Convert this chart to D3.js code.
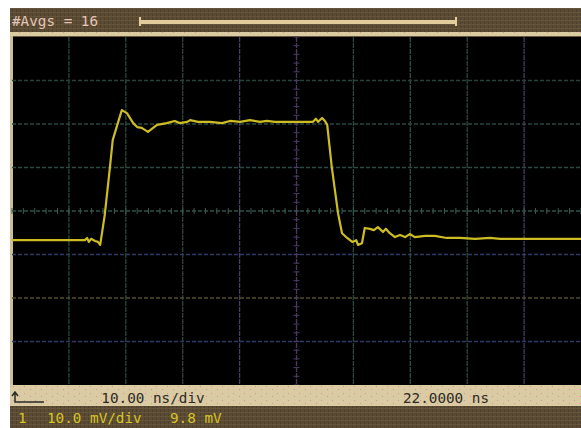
<!DOCTYPE html>
<html>
<head>
<meta charset="utf-8">
<script src="https://cdn.jsdelivr.net/npm/d3@7"></script>
<style>
  html, body { margin: 0; padding: 0; background: #fff; }
  svg { display: block; }
  .mono { font-family: "DejaVu Sans Mono", "Liberation Mono", monospace; }
</style>
</head>
<body>
<svg id="scope" width="581" height="428"></svg>
<script>
// trace samples: time (ns) and level (mV)
const timeNs = [-28.0, -21.3, -15.2, -14.8, -14.5, -14.1, -13.4, -12.9, -12.5, -11.7, -10.8, -10.3,
  -9.4, -8.7, -7.8, -6.7, -6.0, -5.2, -4.1, -3.2, -2.5, -0.8, 0.6, 1.5, 2.8, 3.3, 4.7, 6.8, 8.9,
  10.3, 12.1, 13.8, 15.6, 16.8, 18.2, 20.0, 21.7, 23.5, 24.9, 25.4, 25.8, 26.5, 27.0, 27.4, 28.2,
  29.3, 30.0, 30.9, 31.8, 32.5, 32.8, 33.5, 34.0, 34.9, 35.6, 36.3, 37.2, 37.7, 38.4, 39.3, 40.2,
  41.1, 41.9, 42.8, 44.6, 46.3, 48.4, 50.7, 53.4, 56.0, 57.8, 61.3, 64.8, 72.0];
const levelMv = [3.1, 3.1, 3.1, 3.6, 2.7, 3.4, 2.9, 2.7, 2.0, 8.9, 19.7, 26.1,
  30.0, 33.0, 32.3, 30.0, 29.1, 28.9, 28.0, 28.9, 29.6, 30.0, 30.5, 30.0, 30.3, 30.7, 30.3, 30.3, 30.0,
  30.5, 30.3, 30.7, 30.3, 30.5, 30.3, 30.3, 30.3, 30.3, 30.3, 31.0, 30.3, 31.2, 30.5, 29.6, 19.9,
  9.3, 4.7, 3.6, 2.7, 3.1, 2.0, 2.4, 5.9, 5.7, 5.4, 6.1, 5.0, 5.7, 4.7, 3.8, 4.3,
  3.8, 4.5, 3.8, 4.1, 4.1, 3.6, 3.6, 3.4, 3.6, 3.4, 3.4, 3.4, 3.4];

// screen settings
const centerTime = 22;      // ns
const nsPerDiv = 10;
const offsetMv = 9.8;
const mvPerDiv = 10;
const hDivs = [-5, -4, -3, -2, -1, 0, 1, 2, 3, 4, 5];
const vDivs = [-4, -3, -2, -1, 0, 1, 2, 3, 4];

// labels
const avgLabel = "#Avgs = 16";
const timebaseLabel = "10.00 ns/div";
const positionLabel = "22.0000 ns";
const channelLabel = "1";
const scaleLabel = "10.0 mV/div";
const offsetLabel = "9.8 mV";

const svg = d3.select("#scope");
const plot = { left: 12, right: 581, top: 37, bottom: 385 };

const x = d3.scaleLinear()
  .domain([centerTime - 5 * nsPerDiv, centerTime + 5 * nsPerDiv])
  .range([plot.left, plot.right]);
const y = d3.scaleLinear()
  .domain([offsetMv - 4 * mvPerDiv, offsetMv + 4 * mvPerDiv])
  .range([plot.bottom, plot.top]);

// dithered textures
const defs = svg.append("defs");
const brown = defs.append("pattern").attr("id", "brownTex")
  .attr("width", 4).attr("height", 4).attr("patternUnits", "userSpaceOnUse");
brown.append("rect").attr("width", 4).attr("height", 4).attr("fill", "#5b4b33");
brown.append("rect").attr("width", 1).attr("height", 4).attr("fill", "#4d4030");
brown.append("rect").attr("width", 4).attr("height", 1).attr("fill", "#66553a");

const beige = defs.append("pattern").attr("id", "beigeTex")
  .attr("width", 11).attr("height", 7).attr("patternUnits", "userSpaceOnUse");
beige.append("rect").attr("width", 11).attr("height", 7).attr("fill", "#dacba3");
beige.append("rect").attr("x", 2).attr("y", 1).attr("width", 1).attr("height", 1).attr("fill", "#d88fa0");
beige.append("rect").attr("x", 8).attr("y", 4).attr("width", 1).attr("height", 1).attr("fill", "#d88fa0");

// header
svg.append("rect").attr("x", 10).attr("y", 8).attr("width", 571).attr("height", 29)
  .attr("fill", "url(#brownTex)");
svg.append("rect").attr("x", 10).attr("y", 32).attr("width", 571).attr("height", 4)
  .attr("fill", "url(#beigeTex)");
svg.append("text").attr("class", "mono")
  .attr("x", 12).attr("y", 26)
  .attr("font-size", "14.3px").attr("fill", "#e6c6b8")
  .text(avgLabel);
// averaging progress bar
svg.append("rect").attr("x", 139).attr("y", 20).attr("width", 317).attr("height", 4)
  .attr("fill", "#e2cc9c");
svg.append("rect").attr("x", 139).attr("y", 17).attr("width", 2).attr("height", 9).attr("fill", "#e2cc9c");
svg.append("rect").attr("x", 455).attr("y", 17).attr("width", 2).attr("height", 9).attr("fill", "#e2cc9c");

// screen
svg.append("rect").attr("x", 10).attr("y", 36).attr("width", 3).attr("height", 350).attr("fill", "#cbbd95");
svg.append("rect")
  .attr("x", plot.left + 1).attr("y", plot.top)
  .attr("width", plot.right - plot.left).attr("height", plot.bottom - plot.top)
  .attr("fill", "#000");

// graticule colours, left to right and bottom to top
const vColors = ["#000", "#2c4838", "#2c4838", "#2c4838", "#4a3a66", "#4a3a66",
  "#2c4838", "#33503e", "#2c4838", "#4a3a66", "#000"];
const hColors = ["#000", "#2f3a66", "#4f4e2c", "#2f3a66", "#2e5048", "#2a4a44", "#2a4a44", "#26403a", "#000"];

const grid = svg.append("g").attr("class", "grid");
grid.selectAll(".vline")
  .data(hDivs.slice(1, -1))
  .enter().append("line")
  .attr("class", "vline")
  .attr("x1", d => x(centerTime + d * nsPerDiv))
  .attr("x2", d => x(centerTime + d * nsPerDiv))
  .attr("y1", plot.top).attr("y2", plot.bottom)
  .attr("stroke", (d, i) => vColors[i + 1])
  .attr("stroke-width", 1.3)
  .attr("stroke-dasharray", "5,1");

grid.selectAll(".hline")
  .data(vDivs.slice(1, -1))
  .enter().append("line")
  .attr("class", "hline")
  .attr("x1", plot.left).attr("x2", plot.right)
  .attr("y1", d => y(offsetMv + d * mvPerDiv))
  .attr("y2", d => y(offsetMv + d * mvPerDiv))
  .attr("stroke", (d, i) => hColors[i + 1])
  .attr("stroke-width", 1.3)
  .attr("stroke-dasharray", "4,2");

// minor ticks on the centre axes
const minorT = d3.range(-25, 25.01, 1).map(k => centerTime + k * nsPerDiv / 5);
const minorV = d3.range(-20, 20.01, 1).map(k => offsetMv + k * mvPerDiv / 5);
grid.selectAll(".tickT")
  .data(minorT)
  .enter().append("line")
  .attr("x1", d => x(d)).attr("x2", d => x(d))
  .attr("y1", y(offsetMv) - 3).attr("y2", y(offsetMv) + 3)
  .attr("stroke", "#3a5a52").attr("stroke-width", 1);
grid.selectAll(".tickV")
  .data(minorV)
  .enter().append("line")
  .attr("x1", x(centerTime) - 3).attr("x2", x(centerTime) + 3)
  .attr("y1", d => y(d)).attr("y2", d => y(d))
  .attr("stroke", "#4a3a66").attr("stroke-width", 1);

// trace
const trace = timeNs.map((t, i) => ({ t: t, v: levelMv[i] }));
svg.append("path")
  .datum(trace)
  .attr("fill", "none")
  .attr("stroke", "#cdbd22")
  .attr("stroke-width", 2.2)
  .attr("stroke-linejoin", "round")
  .attr("d", d3.line().x(d => x(d.t)).y(d => y(d.v)));

// footer
svg.append("rect").attr("x", 10).attr("y", 385).attr("width", 571).attr("height", 21)
  .attr("fill", "url(#beigeTex)");
svg.append("rect").attr("x", 10).attr("y", 406).attr("width", 571).attr("height", 22)
  .attr("fill", "url(#brownTex)");
// trigger/position icon
svg.append("path")
  .attr("d", "M15,393 L15,402 L44,402 M12,396 L15,392 L18,396")
  .attr("fill", "none").attr("stroke", "#2a2a28").attr("stroke-width", 1.5);

svg.append("text").attr("class", "mono")
  .attr("x", 153).attr("y", 403).attr("text-anchor", "middle")
  .attr("font-size", "14.3px").attr("fill", "#2c2a26")
  .text(timebaseLabel);
svg.append("text").attr("class", "mono")
  .attr("x", 446).attr("y", 403).attr("text-anchor", "middle")
  .attr("font-size", "14.3px").attr("fill", "#2c2a26")
  .text(positionLabel);

const yellow = "#d8c424";
svg.append("text").attr("class", "mono")
  .attr("x", 18).attr("y", 423).attr("font-size", "14.3px").attr("fill", yellow)
  .text(channelLabel);
svg.append("text").attr("class", "mono")
  .attr("x", 47).attr("y", 423).attr("font-size", "14.3px").attr("fill", yellow)
  .text(scaleLabel);
svg.append("text").attr("class", "mono")
  .attr("x", 170).attr("y", 423).attr("font-size", "14.3px").attr("fill", yellow)
  .text(offsetLabel);
</script>
</body>
</html>
